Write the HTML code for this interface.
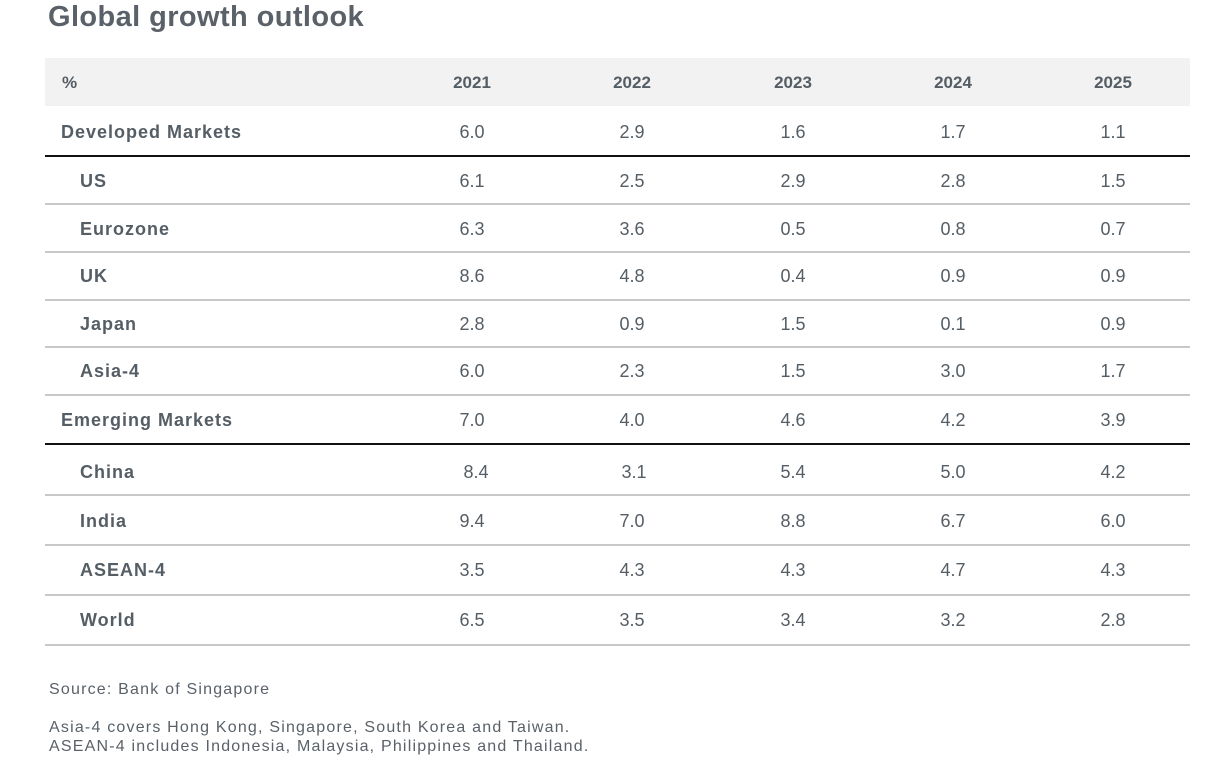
<!DOCTYPE html>
<html><head><style>
body{margin:0;width:1216px;height:766px;background:#fff;position:relative;font-family:"Liberation Sans",sans-serif;color:#555d65;overflow:hidden}
.t{position:absolute;left:48px;top:1px;font-size:29px;font-weight:bold;color:#5a6168;letter-spacing:0.4px}
.hb{position:absolute;left:45px;top:58px;width:1145px;height:48px;background:#f2f2f2}
.l{position:absolute;left:45px;width:1145px}
.r{position:absolute;left:0;width:1216px;height:20px;font-size:18px;line-height:20px}
.r span{position:absolute;text-align:center;width:80px}
.r .n{text-align:left;width:300px;letter-spacing:1px}
.b{font-weight:bold}
.f{position:absolute;left:49px;font-size:16px;color:#5a6168;letter-spacing:1.2px}
</style></head><body>
<div class="t">Global growth outlook</div>
<div class="hb"></div>
<div class="r b" style="top:73px;font-size:17px"><span class="n" style="left:62px">%</span><span style="left:432px">2021</span><span style="left:592px">2022</span><span style="left:753px">2023</span><span style="left:913px">2024</span><span style="left:1073px">2025</span></div>
<div class="r" style="top:122px"><span class="n b" style="left:61px">Developed Markets</span><span style="left:432px">6.0</span><span style="left:592px">2.9</span><span style="left:753px">1.6</span><span style="left:913px">1.7</span><span style="left:1073px">1.1</span></div>
<div class="l" style="top:155px;height:2px;background:#111"></div>
<div class="r" style="top:171px"><span class="n b" style="left:80px">US</span><span style="left:432px">6.1</span><span style="left:592px">2.5</span><span style="left:753px">2.9</span><span style="left:913px">2.8</span><span style="left:1073px">1.5</span></div>
<div class="l" style="top:203px;height:2px;background:#c8c8c8"></div>
<div class="r" style="top:219px"><span class="n b" style="left:80px">Eurozone</span><span style="left:432px">6.3</span><span style="left:592px">3.6</span><span style="left:753px">0.5</span><span style="left:913px">0.8</span><span style="left:1073px">0.7</span></div>
<div class="l" style="top:251px;height:2px;background:#c8c8c8"></div>
<div class="r" style="top:266px"><span class="n b" style="left:80px">UK</span><span style="left:432px">8.6</span><span style="left:592px">4.8</span><span style="left:753px">0.4</span><span style="left:913px">0.9</span><span style="left:1073px">0.9</span></div>
<div class="l" style="top:299px;height:2px;background:#c8c8c8"></div>
<div class="r" style="top:314px"><span class="n b" style="left:80px">Japan</span><span style="left:432px">2.8</span><span style="left:592px">0.9</span><span style="left:753px">1.5</span><span style="left:913px">0.1</span><span style="left:1073px">0.9</span></div>
<div class="l" style="top:346px;height:2px;background:#c8c8c8"></div>
<div class="r" style="top:361px"><span class="n b" style="left:80px">Asia-4</span><span style="left:432px">6.0</span><span style="left:592px">2.3</span><span style="left:753px">1.5</span><span style="left:913px">3.0</span><span style="left:1073px">1.7</span></div>
<div class="l" style="top:394px;height:2px;background:#c8c8c8"></div>
<div class="r" style="top:410px"><span class="n b" style="left:61px">Emerging Markets</span><span style="left:432px">7.0</span><span style="left:592px">4.0</span><span style="left:753px">4.6</span><span style="left:913px">4.2</span><span style="left:1073px">3.9</span></div>
<div class="l" style="top:443px;height:2px;background:#111"></div>
<div class="r" style="top:462px"><span class="n b" style="left:80px">China</span><span style="left:436px">8.4</span><span style="left:594px">3.1</span><span style="left:753px">5.4</span><span style="left:913px">5.0</span><span style="left:1073px">4.2</span></div>
<div class="l" style="top:494px;height:2px;background:#c8c8c8"></div>
<div class="r" style="top:511px"><span class="n b" style="left:80px">India</span><span style="left:432px">9.4</span><span style="left:592px">7.0</span><span style="left:753px">8.8</span><span style="left:913px">6.7</span><span style="left:1073px">6.0</span></div>
<div class="l" style="top:544px;height:2px;background:#c8c8c8"></div>
<div class="r" style="top:560px"><span class="n b" style="left:80px">ASEAN-4</span><span style="left:432px">3.5</span><span style="left:592px">4.3</span><span style="left:753px">4.3</span><span style="left:913px">4.7</span><span style="left:1073px">4.3</span></div>
<div class="l" style="top:594px;height:2px;background:#c8c8c8"></div>
<div class="r" style="top:610px"><span class="n b" style="left:80px">World</span><span style="left:432px">6.5</span><span style="left:592px">3.5</span><span style="left:753px">3.4</span><span style="left:913px">3.2</span><span style="left:1073px">2.8</span></div>
<div class="l" style="top:644px;height:2px;background:#c8c8c8"></div>
<div class="f" style="top:681px">Source: Bank of Singapore</div>
<div class="f" style="top:719px">Asia-4 covers Hong Kong, Singapore, South Korea and Taiwan.</div>
<div class="f" style="top:738px">ASEAN-4 includes Indonesia, Malaysia, Philippines and Thailand.</div>
</body></html>
